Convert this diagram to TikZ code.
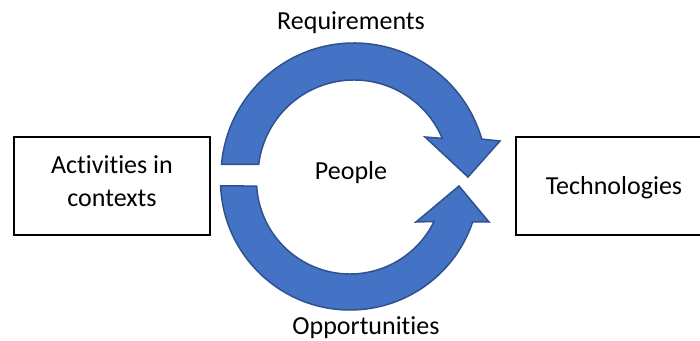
\documentclass[tikz,border=0pt]{standalone}
\usepackage{fontspec}
\setmainfont{Carlito}[Ligatures=NoCommon]
\usetikzlibrary{calc}
\definecolor{arrowfill}{HTML}{4472C4}
\definecolor{arrowline}{HTML}{2F528F}
\begin{document}
\begin{tikzpicture}[x=1pt,y=1pt,
  box/.style={draw=black, line width=1.2pt, minimum width=196pt, minimum height=98pt, inner sep=0pt},
  lbl/.style={font=\fontsize{26}{32}\selectfont, anchor=base, inner sep=0pt},
  bigarrow/.style={fill=arrowfill, draw=arrowline, line width=1.5pt, line join=miter}]
\useasboundingbox (0,0) rectangle (700,340);
\clip (0,0) rectangle (700,340);
% boxes
\node[box] (act) at (112,154) {};
\node[box] (tech) at (614,154) {};
% arrow centres
\coordinate (ct) at (354,164);
\coordinate (cb) at (350,159.5);
% top arrow
\draw[bigarrow] ($(ct)+(175:133pt)$) arc[start angle=175, end angle=16.1, radius=133pt]
  -- (500,199) -- (468,163) -- (425,203) -- ($(ct)+(23.1:96pt)$)
  arc[start angle=23.1, end angle=173.1, radius=96pt] -- cycle;
% bottom arrow
\draw[bigarrow] ($(cb)+(182.4:129.5pt)$) arc[start angle=182.4, end angle=341.4, radius=129.5pt]
  -- (489,118) -- (459,154) -- (416,118) -- ($(cb)+(334:93.5pt)$)
  arc[start angle=334, end angle=183.4, radius=93.5pt] -- cycle;
% labels
\node[lbl] (req) at (351,310.7) {Requirements};
\node[lbl] (ppl) at (351,160.7) {People};
\node[lbl] (opp) at (366,6) {Opportunities};
\node[lbl] (act1) at (112,166.7) {Activities in};
\node[lbl] (act2) at (112,134) {contexts};
\node[lbl] (techl) at (614,146) {Technologies};
\end{tikzpicture}
\end{document}
